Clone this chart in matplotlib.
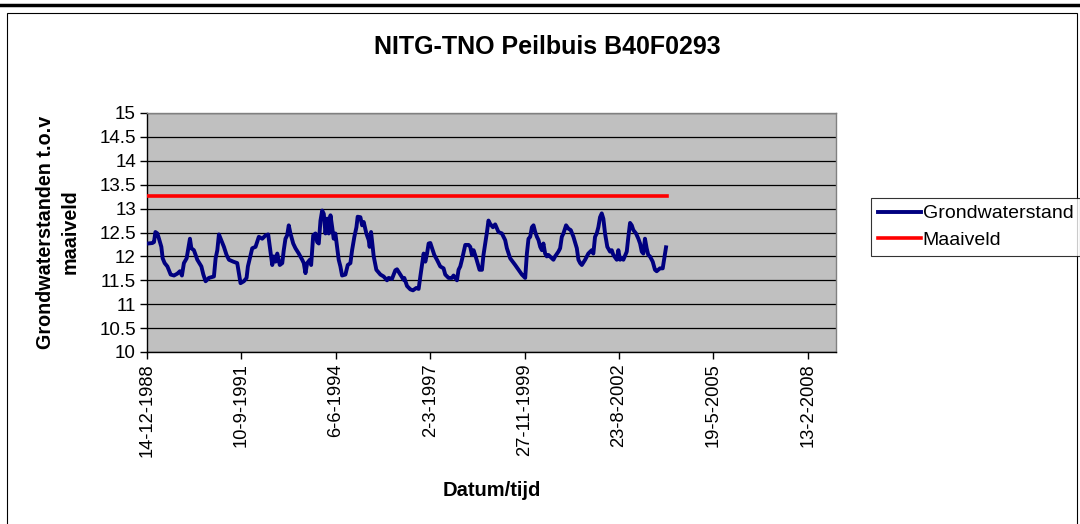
import matplotlib
matplotlib.use("Agg")
import matplotlib.pyplot as plt
from matplotlib.lines import Line2D
from matplotlib.patches import Rectangle
from datetime import datetime, timedelta

plt.rcParams['font.family'] = ['Liberation Sans', 'DejaVu Sans']

# chart data (days after 14-12-1988, grondwaterstand in m)
start = datetime(1988, 12, 14)
gw_days = [11, 57, 74, 89, 110, 127, 152, 166, 187, 216, 251, 286, 322, 349, 370, 391,
           420, 455, 470, 497, 533, 576, 597, 621, 656, 709, 727, 745, 762, 780, 815, 843,
           868, 914, 956, 973, 991, 1026, 1055, 1069, 1115, 1150, 1185, 1221, 1256, 1284,
           1301, 1327, 1344, 1362, 1380, 1407, 1433, 1449, 1467, 1485, 1502, 1520, 1549,
           1573, 1608, 1644, 1661, 1679, 1697, 1725, 1739, 1761, 1785, 1803, 1820, 1838,
           1856, 1873, 1891, 1909, 1926, 1944, 1962, 1978, 1996, 2014, 2031, 2049, 2067,
           2102, 2127, 2155, 2173, 2197, 2219, 2232, 2261, 2279, 2296, 2324, 2349, 2359,
           2374, 2402, 2430, 2473, 2507, 2543, 2560, 2596, 2631, 2649, 2684, 2719, 2726,
           2755, 2790, 2818, 2853, 2878, 2896, 2914, 2931, 2949, 2967, 2984, 3002, 3020,
           3044, 3072, 3107, 3142, 3160, 3195, 3231, 3248, 3284, 3301, 3319, 3337, 3372,
           3407, 3425, 3443, 3460, 3488, 3523, 3549, 3565, 3584, 3602, 3618, 3636, 3665,
           3689, 3724, 3760, 3795, 3813, 3848, 3901, 3936, 3972, 4007, 4025, 4042, 4060,
           4078, 4095, 4113, 4131, 4148, 4166, 4184, 4200, 4218, 4236, 4253, 4289, 4306,
           4324, 4359, 4377, 4395, 4412, 4440, 4465, 4490, 4518, 4554, 4571, 4589, 4607,
           4642, 4676, 4712, 4729, 4747, 4765, 4782, 4800, 4818, 4835, 4853, 4877, 4906,
           4924, 4941, 4977, 4994, 5012, 5030, 5047, 5083, 5100, 5118, 5136, 5153, 5181,
           5206, 5224, 5242, 5259, 5276, 5294, 5311, 5329, 5358, 5382, 5400, 5418, 5435,
           5464, 5488, 5499]
gw_level = [12.27, 12.28, 12.30, 12.51, 12.48, 12.37, 12.20, 11.96, 11.86, 11.79, 11.62,
            11.60, 11.64, 11.69, 11.60, 11.86, 11.96, 12.37, 12.17, 12.13, 11.93, 11.79,
            11.62, 11.48, 11.55, 11.58, 11.96, 12.13, 12.46, 12.37, 12.20, 12.03, 11.93,
            11.89, 11.86, 11.65, 11.44, 11.48, 11.55, 11.79, 12.17, 12.20, 12.41, 12.37,
            12.44, 12.46, 12.20, 11.82, 12.00, 11.89, 12.06, 11.82, 11.86, 12.13, 12.37,
            12.44, 12.65, 12.48, 12.27, 12.17, 12.06, 11.93, 11.86, 11.65, 11.86, 11.93,
            11.82, 12.44, 12.48, 12.30, 12.27, 12.75, 12.96, 12.89, 12.48, 12.79, 12.48,
            12.86, 12.61, 12.37, 12.48, 12.20, 11.93, 11.79, 11.60, 11.62, 11.82, 11.86,
            12.13, 12.41, 12.61, 12.83, 12.82, 12.65, 12.72, 12.48, 12.34, 12.20, 12.51,
            12.00, 11.72, 11.62, 11.58, 11.50, 11.55, 11.53, 11.71, 11.73, 11.62, 11.51,
            11.55, 11.38, 11.31, 11.29, 11.34, 11.32, 11.58, 11.82, 12.06, 11.89, 12.06,
            12.27, 12.28, 12.17, 12.03, 11.93, 11.79, 11.75, 11.62, 11.55, 11.55, 11.60,
            11.50, 11.72, 11.79, 11.93, 12.24, 12.24, 12.20, 12.03, 12.13, 11.96, 11.72,
            11.72, 12.03, 12.27, 12.51, 12.75, 12.68, 12.61, 12.67, 12.51, 12.48, 12.34,
            12.17, 11.96, 11.82, 11.72, 11.62, 11.55, 12.06, 12.37, 12.41, 12.61, 12.65,
            12.51, 12.41, 12.34, 12.20, 12.13, 12.27, 12.06, 12.00, 12.03, 11.96, 11.93,
            12.00, 12.10, 12.17, 12.41, 12.48, 12.65, 12.58, 12.55, 12.41, 12.17, 11.93,
            11.86, 11.82, 11.93, 12.06, 12.13, 12.06, 12.41, 12.48, 12.61, 12.82, 12.90,
            12.79, 12.48, 12.20, 12.10, 12.13, 12.03, 11.93, 12.13, 11.93, 11.96, 11.93,
            12.10, 12.41, 12.70, 12.65, 12.55, 12.48, 12.37, 12.27, 12.10, 12.06, 12.37,
            12.17, 12.03, 12.00, 11.89, 11.72, 11.69, 11.72, 11.75, 11.75, 12.06, 12.19]
mv_days = [0, 5510]
mv_level = [13.27, 13.27]

y_ticks = [10, 10.5, 11, 11.5, 12, 12.5, 13, 13.5, 14, 14.5, 15]
x_tick_days = [0, 1000, 2000, 3000, 4000, 5000, 6000, 7000]
x_max_days = 7300

W, H = 1080, 524
fig = plt.figure(figsize=(W / 100, H / 100), dpi=100)
fig.patch.set_facecolor('white')

# outer frame of the chart object
fig.add_artist(Line2D([0, 1], [1 - 5 / H, 1 - 5 / H], color='black', lw=2.5,
                      transform=fig.transFigure))
fig.add_artist(Rectangle((7 / W, -0.05), (1077 - 7) / W, 1.05 - 13 / H, fill=False,
                         edgecolor='black', lw=0.8, transform=fig.transFigure))

ax = fig.add_axes([147 / W, 1 - 352 / H, (836 - 147) / W, (352 - 113) / H])
ax.set_facecolor('#C0C0C0')

gw_dates = [start + timedelta(days=d) for d in gw_days]
mv_dates = [start + timedelta(days=d) for d in mv_days]
ax.plot(gw_dates, gw_level, color='#000080', lw=2.8, label='Grondwaterstand',
        solid_joinstyle='round', zorder=3)
ax.plot(mv_dates, mv_level, color='#FF0000', lw=2.6, label='Maaiveld', zorder=3)

ax.set_ylim(10, 15)
ax.set_yticks(y_ticks)
ax.set_yticklabels([f'{v:g}' for v in y_ticks], fontsize=13.5)
ax.yaxis.grid(True, color='black', lw=0.9)
ax.set_axisbelow(True)

tick_dates = [start + timedelta(days=d) for d in x_tick_days]
ax.set_xlim(start, start + timedelta(days=x_max_days))
ax.set_xticks(tick_dates)
ax.set_xticklabels([f'{d.day}-{d.month}-{d.year}' for d in tick_dates],
                   rotation=90, fontsize=13.2)
ax.tick_params(axis='both', direction='out', length=5, width=1, color='black', pad=3)

for side in ['top', 'right']:
    ax.spines[side].set_color('#808080')
    ax.spines[side].set_linewidth(1)
for side in ['left', 'bottom']:
    ax.spines[side].set_color('black')
    ax.spines[side].set_linewidth(1)

fig.text(547 / W, 1 - 47 / H, 'NITG-TNO Peilbuis B40F0293', fontsize=18,
         fontweight='bold', ha='center', va='center')
fig.text(58 / W, 1 - 232 / H, 'Grondwaterstanden t.o.v\nmaaiveld', fontsize=14.2,
         fontweight='bold', rotation=90, ha='center', va='center', linespacing=1.4,
         multialignment='center')
fig.text(492 / W, 1 - 490 / H, 'Datum/tijd', fontsize=14.5, fontweight='bold',
         ha='center', va='center')

leg = fig.legend(loc='upper left', bbox_to_anchor=(871 / W, 1 - 198 / H),
                 fontsize=14, frameon=True, fancybox=False, handlelength=2.2,
                 handletextpad=0.1, borderpad=0.35, labelspacing=0.45,
                 borderaxespad=0)
leg.get_frame().set_edgecolor('black')
leg.get_frame().set_linewidth(0.8)

fig.savefig('out.png', dpi=100)
